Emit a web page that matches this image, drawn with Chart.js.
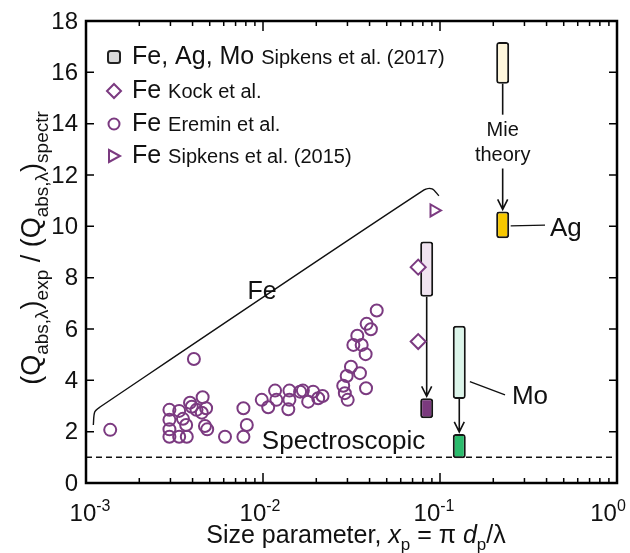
<!DOCTYPE html>
<html>
<head>
<meta charset="utf-8">
<script src="https://cdn.jsdelivr.net/npm/chart.js@4"></script>
<style>
  body { margin: 0; background: #fff; }
  #wrap { width: 630px; height: 553px; }
</style>
</head>
<body>
<div id="wrap"><canvas id="qabsChart" width="630" height="553"></canvas></div>
<script>
// Fe, Eremin et al.
const eremX = [0.00137, 0.00407, 0.00296, 0.00296, 0.00296, 0.00296, 0.00336, 0.00336, 0.00371, 0.00368,
  0.00353, 0.00387, 0.00396, 0.00421, 0.00456, 0.00477, 0.00451, 0.0047, 0.00484, 0.0061,
  0.00775, 0.0081, 0.00775, 0.00984, 0.0107, 0.0117, 0.0119, 0.0139, 0.0141, 0.0141,
  0.0162, 0.0168, 0.018, 0.0192, 0.0205, 0.0217, 0.0284, 0.029, 0.0301, 0.0297,
  0.0314, 0.0353, 0.0382, 0.0324, 0.0341, 0.0361, 0.038, 0.0385, 0.0407, 0.0439];
const eremY = [2.07, 4.83, 2.85, 2.46, 2.09, 1.80, 2.81, 1.80, 1.80, 2.26,
  2.50, 3.13, 2.97, 2.85, 3.34, 2.91, 2.74, 2.22, 2.09, 1.80,
  2.91, 2.26, 1.80, 3.24, 2.95, 3.60, 3.24, 2.87, 3.60, 3.24,
  3.56, 3.60, 3.17, 3.56, 3.30, 3.39, 3.79, 3.50, 3.24, 4.17,
  4.53, 4.28, 3.69, 5.38, 5.74, 5.38, 5.02, 6.20, 5.99, 6.72];
// Fe, Kock et al.
const kockX = [0.0753, 0.0753];
const kockY = [8.41, 5.51];
// Fe, Sipkens et al. (2015)
const sip15X = [0.0925];
const sip15Y = [10.62];
// Sipkens et al. (2017): Mie theory range (light) and experiment (dark)
const boxNames = ["Fe", "Mo", "Ag"];
const boxX = [0.0841, 0.1285, 0.226];
const mieLo = [7.26, 3.27, 15.56];
const mieHi = [9.41, 6.13, 17.18];
const expLo = [2.52, 0.96, 9.54];
const expHi = [3.30, 1.91, 10.58];
const spectrLevel = 1;
// axes
const yTicks = [0, 2, 4, 6, 8, 10, 12, 14, 16, 18];
const xMajor = [0.001, 0.01, 0.1, 1];
const xTickExp = ["-3", "-2", "-1", "0"];
const xTickShift = [4, -3, -6, -9];

const FONT = '"Liberation Sans", Arial, sans-serif';
const PURPLE = "#7b3a80";
const lightCol = ["#f1e4f1", "#dcf5ea", "#fff7dc"];
const darkCol = ["#7b3a7e", "#2bbb6c", "#f7c800"];

function richText(ctx, parts, x, y, size, align, subScale) {
  const k = subScale || 0.68;
  const font = p => (p[1] === "it" ? "italic " : "") +
    Math.round(p[1] === "sub" || p[1] === "sup" ? size * k : size) + "px " + FONT;
  let w = 0;
  parts.forEach(p => { ctx.font = font(p); w += ctx.measureText(p[0]).width; });
  let cx = align === "center" ? x - w / 2 : (align === "right" ? x - w : x);
  ctx.textAlign = "left";
  ctx.textBaseline = "alphabetic";
  parts.forEach(p => {
    ctx.font = font(p);
    const dy = p[1] === "sub" ? size * 0.28 : (p[1] === "sup" ? -size * 0.4 : 0);
    ctx.fillText(p[0], cx, y + dy);
    cx += ctx.measureText(p[0]).width;
  });
  return cx;
}

function arrow(ctx, x, y1, y2) {
  ctx.beginPath();
  ctx.moveTo(x, y1);
  ctx.lineTo(x, y2);
  ctx.moveTo(x - 5, y2 - 10);
  ctx.lineTo(x, y2);
  ctx.lineTo(x + 5, y2 - 10);
  ctx.stroke();
}

const annot = {
  id: "annot",
  beforeDatasetsDraw(chart) {
    const ctx = chart.ctx, xs = chart.scales.x, ys = chart.scales.y;
    ctx.save();
    ctx.strokeStyle = "#111";
    ctx.fillStyle = "#111";
    ctx.lineWidth = 1.6;
    // Fe and Mo: Mie theory -> experiment
    [0, 1].forEach(i => {
      arrow(ctx, xs.getPixelForValue(boxX[i]), ys.getPixelForValue(mieLo[i]), ys.getPixelForValue(expHi[i]) - 2);
    });
    // Ag with "Mie theory" label on the way
    const ax = xs.getPixelForValue(boxX[2]);
    ctx.beginPath();
    ctx.moveTo(ax, ys.getPixelForValue(mieLo[2]));
    ctx.lineTo(ax, ys.getPixelForValue(14.35));
    ctx.stroke();
    arrow(ctx, ax, ys.getPixelForValue(12.25), ys.getPixelForValue(expHi[2]) - 2);
    ctx.font = "20px " + FONT;
    ctx.textAlign = "center";
    ctx.textBaseline = "middle";
    ctx.fillText("Mie", ax, ys.getPixelForValue(13.72));
    ctx.fillText("theory", ax, ys.getPixelForValue(12.75));
    // Ag and Mo pointer lines + labels
    ctx.lineWidth = 1.3;
    ctx.beginPath();
    ctx.moveTo(ax + 8, ys.getPixelForValue(10.02));
    ctx.lineTo(xs.getPixelForValue(0.392), ys.getPixelForValue(10.05));
    ctx.moveTo(xs.getPixelForValue(0.1475), ys.getPixelForValue(3.95));
    ctx.lineTo(xs.getPixelForValue(0.233), ys.getPixelForValue(3.43));
    ctx.stroke();
    ctx.font = "26px " + FONT;
    ctx.textAlign = "left";
    ctx.fillText("Ag", xs.getPixelForValue(0.418), ys.getPixelForValue(9.9));
    ctx.fillText("Mo", xs.getPixelForValue(0.255), ys.getPixelForValue(3.35));
    ctx.font = "25px " + FONT;
    ctx.textAlign = "center";
    ctx.fillText("Fe", xs.getPixelForValue(0.00987), ys.getPixelForValue(7.45));
    ctx.font = "26px " + FONT;
    ctx.fillText("Spectroscopic", xs.getPixelForValue(0.0285), ys.getPixelForValue(1.62));
    ctx.restore();
  },
  afterDraw(chart) {
    const ctx = chart.ctx, xs = chart.scales.x, ys = chart.scales.y;
    const a = chart.chartArea;
    ctx.save();
    ctx.strokeStyle = "#000";
    ctx.fillStyle = "#111";
    ctx.lineWidth = 1.5;
    ctx.beginPath();
    yTicks.forEach(v => {
      const py = ys.getPixelForValue(v);
      ctx.moveTo(a.left, py); ctx.lineTo(a.left + 8, py);
      ctx.moveTo(a.right, py); ctx.lineTo(a.right - 8, py);
    });
    xMajor.forEach((v, k) => {
      const px = xs.getPixelForValue(v);
      ctx.moveTo(px, a.bottom); ctx.lineTo(px, a.bottom - 10);
      ctx.moveTo(px, a.top); ctx.lineTo(px, a.top + 10);
      if (k < xMajor.length - 1) {
        for (let m = 2; m < 10; m++) {
          const pm = xs.getPixelForValue(v * m);
          ctx.moveTo(pm, a.bottom); ctx.lineTo(pm, a.bottom - 5);
          ctx.moveTo(pm, a.top); ctx.lineTo(pm, a.top + 5);
        }
      }
    });
    ctx.stroke();
    ctx.lineWidth = 2.5;
    ctx.strokeRect(a.left, a.top, a.right - a.left, a.bottom - a.top);

    // tick labels
    ctx.font = "24px " + FONT;
    ctx.textAlign = "right";
    ctx.textBaseline = "middle";
    yTicks.forEach(v => ctx.fillText(String(v), a.left - 8, ys.getPixelForValue(v) + 1));
    xMajor.forEach((v, k) => {
      richText(ctx, [["10", ""], [xTickExp[k], "sup"]], xs.getPixelForValue(v) + xTickShift[k], 521, 24, "center");
    });

    // axis titles
    richText(ctx, [["Size parameter, ", ""], ["x", "it"], ["p", "sub"], [" = \u03c0 ", ""], ["d", "it"],
      ["p", "sub"], ["/\u03bb", ""]], 356, 543, 25, "center");
    ctx.save();
    ctx.translate(40, 248);
    ctx.rotate(-Math.PI / 2);
    richText(ctx, [["(Q", ""], ["abs,\u03bb", "sub"], [")", ""], ["exp", "sub"], [" / (Q", ""],
      ["abs,\u03bb", "sub"], [")", ""], ["spectr", "sub"]], 0, 0, 27, "center", 0.7);
    ctx.restore();

    // legend
    const lx = 114, rows = [57, 91, 124, 156];
    ctx.lineWidth = 2;
    ctx.strokeStyle = "#222";
    ctx.fillStyle = "#d9d9d9";
    ctx.beginPath();
    ctx.roundRect(lx - 6, rows[0] - 6, 12, 12, 2.5);
    ctx.fill(); ctx.stroke();
    ctx.strokeStyle = PURPLE;
    ctx.fillStyle = "#fff";
    ctx.beginPath();
    ctx.moveTo(lx, rows[1] - 7); ctx.lineTo(lx + 7, rows[1]); ctx.lineTo(lx, rows[1] + 7); ctx.lineTo(lx - 7, rows[1]);
    ctx.closePath(); ctx.stroke();
    ctx.beginPath();
    ctx.arc(lx, rows[2], 5.5, 0, Math.PI * 2); ctx.stroke();
    ctx.beginPath();
    ctx.moveTo(lx - 5, rows[3] - 6); ctx.lineTo(lx + 6, rows[3]); ctx.lineTo(lx - 5, rows[3] + 6);
    ctx.closePath(); ctx.stroke();
    ctx.fillStyle = "#111";
    const legendText = [["Fe, Ag, Mo", "Sipkens et al. (2017)"], ["Fe", "Kock et al."],
      ["Fe", "Eremin et al."], ["Fe", "Sipkens et al. (2015)"]];
    ctx.textAlign = "left";
    ctx.textBaseline = "middle";
    legendText.forEach((t, i) => {
      ctx.font = "25px " + FONT;
      ctx.fillText(t[0], 132, rows[i]);
      const w = ctx.measureText(t[0] + " ").width;
      ctx.font = "20px " + FONT;
      ctx.fillText(t[1], 132 + w, rows[i] + 1);
    });
    ctx.restore();
  }
};

const ctx = document.getElementById("qabsChart").getContext("2d");
const qabsChart = new Chart(ctx, {
  type: "scatter",
  data: {
    datasets: [
      {
        label: "Fe Eremin et al.",
        data: eremX.map((x, i) => ({ x: x, y: eremY[i] })),
        pointStyle: "circle",
        pointRadius: 6,
        borderWidth: 2,
        borderColor: PURPLE,
        backgroundColor: "rgba(255,255,255,0)",
        order: 0,
      },
      {
        label: "Fe Kock et al.",
        data: kockX.map((x, i) => ({ x: x, y: kockY[i] })),
        pointStyle: "rectRot",
        pointRadius: 7.5,
        borderWidth: 2,
        borderColor: PURPLE,
        backgroundColor: "#fff",
        order: 0,
      },
      {
        label: "Fe Sipkens et al. (2015)",
        data: sip15X.map((x, i) => ({ x: x, y: sip15Y[i] })),
        pointStyle: "triangle",
        rotation: 90,
        pointRadius: 7,
        borderWidth: 2,
        borderColor: PURPLE,
        backgroundColor: "#fff",
        order: 0,
      },
      {
        type: "bar",
        label: "Mie theory",
        data: boxX.map((x, i) => ({ x: x, y: [mieLo[i], mieHi[i]] })),
        backgroundColor: lightCol,
        borderColor: "#151515",
        borderWidth: 2,
        borderRadius: 3,
        borderSkipped: false,
        grouped: false,
        barPercentage: 20,
        maxBarThickness: 13,
        order: 2,
      },
      {
        type: "bar",
        label: "Experiment",
        data: boxX.map((x, i) => ({ x: x, y: [expLo[i], expHi[i]] })),
        backgroundColor: darkCol,
        borderColor: "#151515",
        borderWidth: 2,
        borderRadius: 3,
        borderSkipped: false,
        grouped: false,
        barPercentage: 20,
        maxBarThickness: 13,
        order: 2,
      },
      {
        type: "line",
        label: "Spectroscopic",
        data: [{ x: 0.001, y: spectrLevel }, { x: 1, y: spectrLevel }],
        borderColor: "#111",
        borderWidth: 1.5,
        borderDash: [6, 4],
        pointRadius: 0,
        order: 3,
      },
      {
        type: "line",
        label: "Fe bracket",
        data: [{ x: 0.0011, y: 2.26 }, { x: 0.00112, y: 2.77 }, { x: 0.0012, y: 2.96 },
          { x: 0.0813, y: 11.42 }, { x: 0.0902, y: 11.46 }, { x: 0.0986, y: 11.19 }],
        borderColor: "#111",
        borderWidth: 1.4,
        tension: 0.3,
        pointRadius: 0,
        order: 3,
      },
    ],
  },
  options: {
    responsive: false,
    animation: false,
    layout: { padding: { top: 21, right: 13, left: 0, bottom: 0 } },
    plugins: { legend: { display: false }, tooltip: { enabled: false } },
    scales: {
      x: {
        type: "logarithmic",
        min: 0.001,
        max: 1,
        offset: false,
        grid: { display: false },
        border: { display: false },
        ticks: { display: false },
        afterFit: s => { s.height = 70; },
      },
      y: {
        min: 0,
        max: 18,
        grid: { display: false },
        border: { display: false },
        ticks: { display: false },
        afterFit: s => { s.width = 86; },
      },
    },
  },
  plugins: [annot],
});
</script>
</body>
</html>
